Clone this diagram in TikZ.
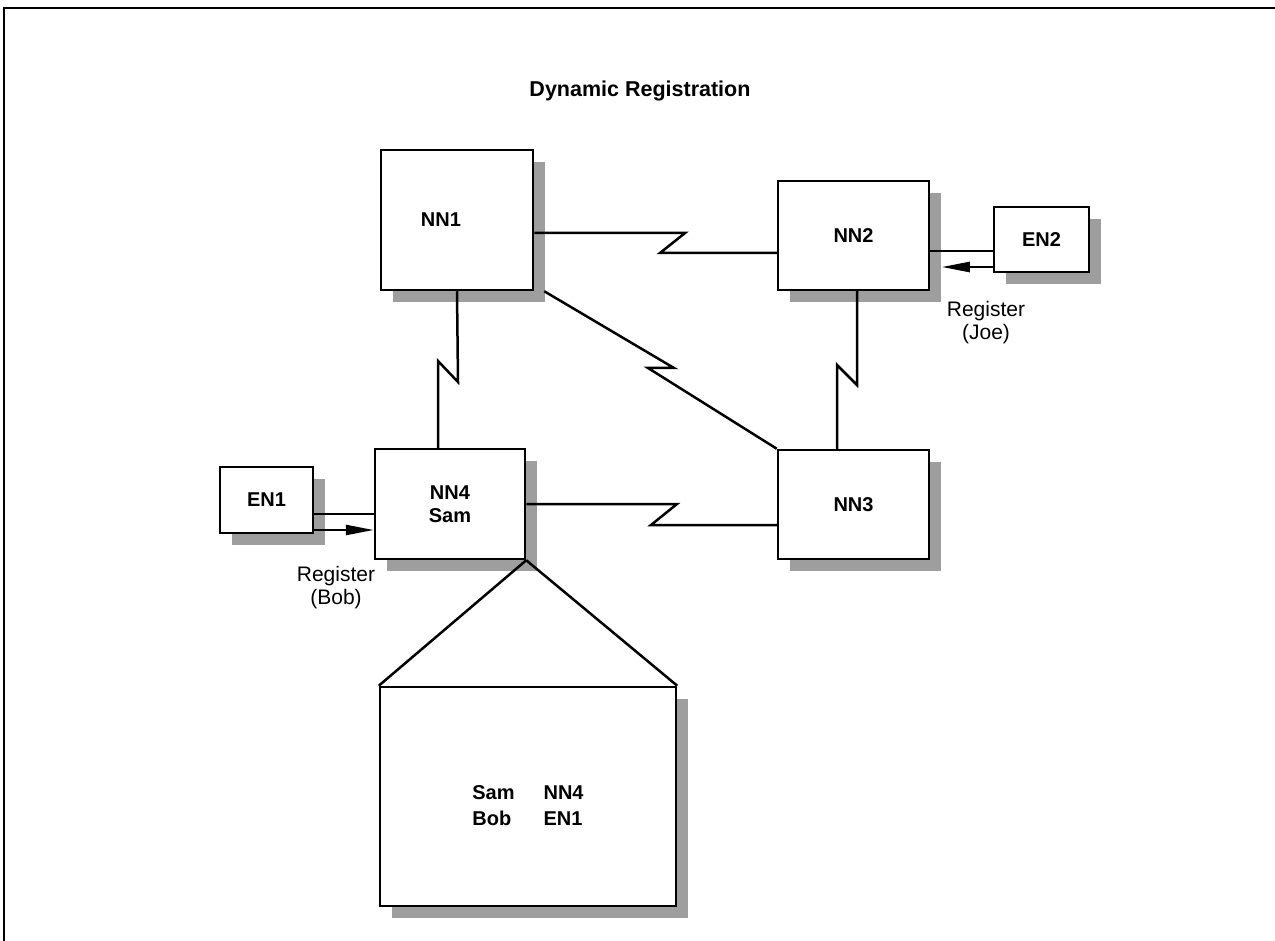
\documentclass[tikz,border=0pt]{standalone}
\usepackage{fontspec}
\setmainfont{Liberation Sans}
\usetikzlibrary{arrows.meta,shadows}
\begin{document}
\begin{tikzpicture}[x=1pt,y=-1pt,
  boxfont/.style={font=\fontsize{20}{23}\selectfont\bfseries},
  box/.style={draw, line width=2.5pt, fill=white, inner sep=0pt, boxfont, align=center,
    drop shadow={shadow xshift=12pt, shadow yshift=-12pt, fill=black!38, opacity=1}},
  wire/.style={line width=2.5pt, line join=miter},
  tip/.style={-{Triangle[length=28pt,width=10pt]}},
  lab/.style={font=\fontsize{21}{23}\selectfont, align=center}]
\useasboundingbox (0,0) rectangle (1275,941);
% frame
\draw[line width=2pt] (4,941) -- (4,8) -- (1275,8);
% title
\node[font=\fontsize{21.5}{24}\selectfont\bfseries] (title) at (640,91) {Dynamic Registration};
% boxes
\node[box, minimum width=152pt, minimum height=140pt,
  label={[name=NN1t, boxfont, xshift=-16pt]center:NN1}] (NN1) at (457,220) {};
\node[box, minimum width=151pt, minimum height=109pt] (NN2) at (853.5,235.5) {NN2};
\node[box, minimum width=95pt, minimum height=65pt] (EN2) at (1041.5,239.5) {EN2};
\node[box, minimum width=150pt, minimum height=110pt] (NN4) at (450,504) {NN4\\Sam};
\node[box, minimum width=151pt, minimum height=109pt] (NN3) at (853.5,504.5) {NN3};
\node[box, minimum width=93pt, minimum height=66pt] (EN1) at (266.5,500) {EN1};
\node[box, minimum width=296pt, minimum height=219pt,
  label={[name=TABt, boxfont, yshift=-11pt]center:{\begin{tabular}{@{}l@{\hspace{29pt}}l@{}}Sam & NN4\\[3pt] Bob & EN1\end{tabular}}}]
  (TAB) at (528,796.5) {};
% labels
\node[lab] (regbob) at (336,588) {Register\\(Bob)};
\node[lab] (regjoe) at (986,323) {Register\\(Joe)};
% links
\draw[wire] ([yshift=-13pt]NN1.east) -- (685,233) -- (660,253) -- ([yshift=-17.5pt]NN2.west);
\draw[wire] (NN1.south) -- (458,382) -- (438,361) -- ([xshift=-12pt]NN4.north);
\draw[wire] ([xshift=10pt]NN1.south east) -- (674,368) -- (648,368) -- (NN3.north west);
\draw[wire] ([xshift=3.5pt]NN2.south) -- (857,385) -- (837,365) -- ([xshift=-16.5pt]NN3.north);
\draw[wire] (NN4.east) -- (677,504) -- (651,525) -- ([yshift=-20.5pt]NN3.west);
% register arrows
\coordinate (e1a) at ([yshift=-14pt]EN1.east);
\coordinate (e1b) at ([yshift=-30pt]EN1.east);
\draw[wire] (e1a) -- (e1a -| NN4.west);
\draw[wire, tip] (e1b) -- (e1b -| NN4.west);
\coordinate (e2a) at ([yshift=-11.5pt]EN2.west);
\coordinate (e2b) at ([yshift=-27.5pt]EN2.west);
\coordinate (e2tip) at ([xshift=-51pt]e2b);
\draw[wire] (e2a -| NN2.east) -- (e2a);
\draw[wire, tip] (e2b) -- (e2tip);
% zoom-out lines
\draw[wire] (NN4.south east) -- (TAB.north west);
\draw[wire] (NN4.south east) -- (TAB.north east);
\end{tikzpicture}
\end{document}
